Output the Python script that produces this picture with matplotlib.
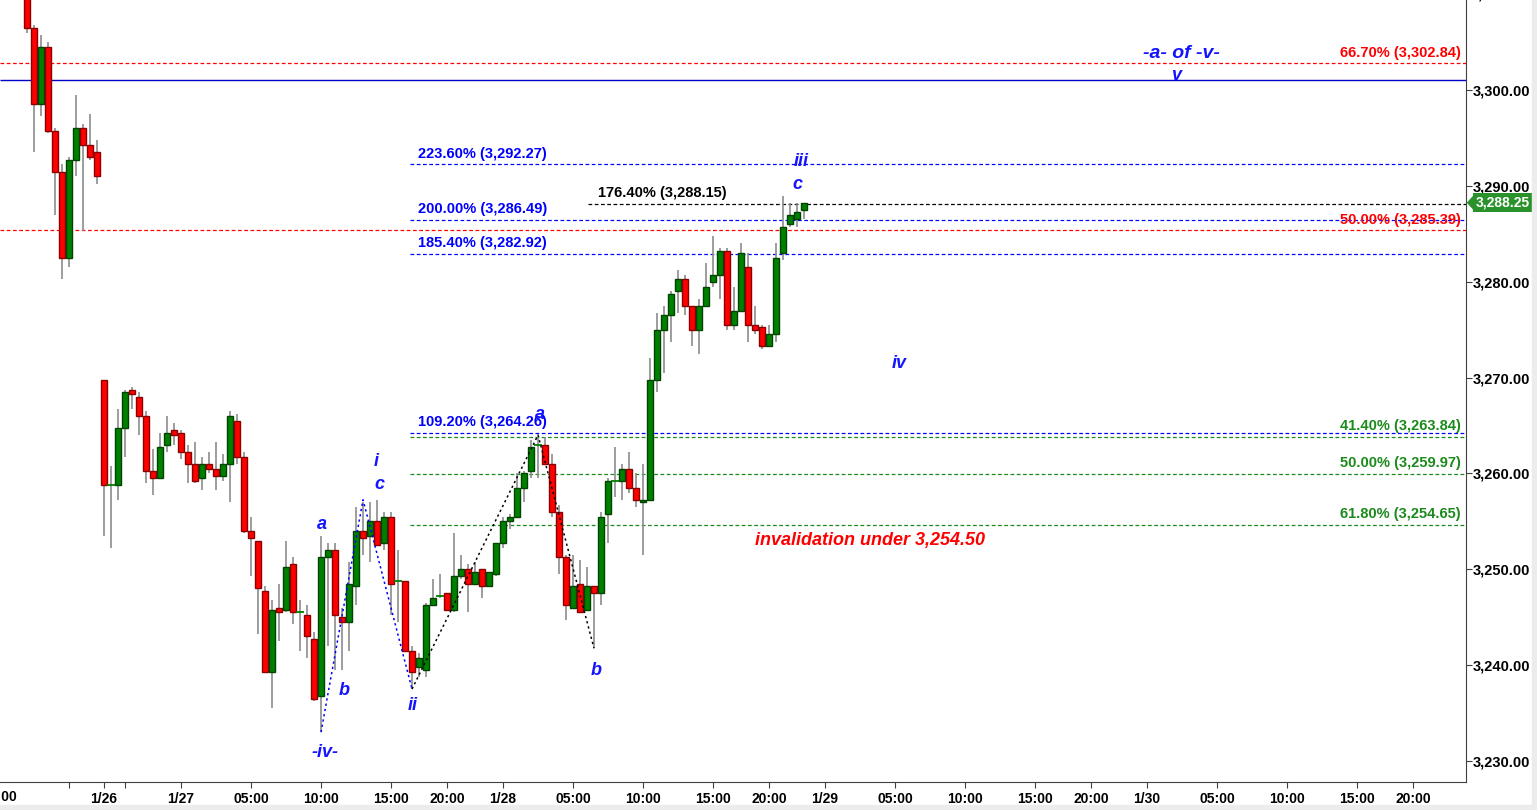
import pandas as pd
import matplotlib
matplotlib.use('Agg')
import matplotlib.pyplot as plt
import matplotlib.transforms as mtrans

# 30 minute bars, timestamp = bar close (US/Eastern), first bar Fri 1/24 12:00
first_bar = '2020-01-24 12:00'
opens = [3312.00, 3306.50, 3298.50, 3304.50, 3295.75, 3291.50, 3282.50, 3292.75, 3296.00, 3294.25, 3293.50,
         3269.75, 3258.75, 3258.75, 3264.75, 3268.75, 3268.00, 3266.00, 3260.25, 3259.50, 3263.00,
         3264.50, 3264.25, 3262.25, 3261.00, 3259.50, 3261.00, 3260.50, 3259.75, 3261.00, 3265.50,
         3261.75, 3254.00, 3253.00, 3247.75, 3239.25, 3246.00, 3245.75, 3250.50, 3245.50, 3245.25,
         3242.75, 3236.75, 3251.25, 3252.00, 3245.00, 3244.50, 3248.25, 3254.00, 3253.50, 3255.00,
         3252.75, 3255.50, 3248.75, 3248.75, 3241.50, 3239.75, 3239.50, 3246.25, 3247.25, 3247.50,
         3245.75, 3249.25, 3250.00, 3248.50, 3250.00, 3248.25, 3249.50, 3252.75, 3255.00, 3255.50,
         3258.50, 3260.25, 3263.00, 3263.00, 3261.00, 3256.00, 3251.25, 3246.00, 3248.50, 3245.75,
         3248.25, 3247.50, 3255.75, 3259.25, 3259.25, 3260.50, 3258.50, 3257.00, 3257.25, 3269.75,
         3275.00, 3276.50, 3279.00, 3280.25, 3277.50, 3275.00, 3277.50, 3280.00, 3280.75, 3283.25,
         3275.50, 3277.00, 3281.50, 3275.50, 3275.25, 3273.25, 3274.50, 3283.00, 3286.00, 3286.50,
         3287.50]
highs = [3313.00, 3306.75, 3305.75, 3305.00, 3296.00, 3292.25, 3293.00, 3299.50, 3296.50, 3297.50, 3294.75,
         3269.75, 3260.75, 3266.75, 3268.75, 3269.00, 3268.50, 3266.50, 3262.50, 3264.25, 3266.00,
         3265.25, 3264.50, 3263.00, 3263.25, 3261.75, 3262.25, 3263.25, 3262.00, 3266.50, 3266.25,
         3262.25, 3255.50, 3253.00, 3248.25, 3246.75, 3248.50, 3253.00, 3251.25, 3246.75, 3246.25,
         3243.50, 3253.50, 3252.75, 3252.75, 3246.00, 3250.75, 3256.50, 3257.00, 3257.00, 3257.25,
         3256.00, 3256.00, 3252.00, 3248.75, 3242.00, 3241.25, 3246.50, 3249.00, 3249.50, 3247.50,
         3253.75, 3251.50, 3250.50, 3250.75, 3250.00, 3249.75, 3252.75, 3255.50, 3255.75, 3260.00,
         3260.25, 3263.50, 3263.75, 3263.75, 3262.00, 3256.75, 3251.50, 3251.50, 3251.00, 3250.25,
         3248.25, 3256.00, 3259.50, 3262.75, 3261.00, 3262.25, 3260.00, 3261.00, 3272.00, 3276.75,
         3277.50, 3279.00, 3281.25, 3280.75, 3277.50, 3278.25, 3282.00, 3284.75, 3283.50, 3283.50,
         3279.50, 3284.00, 3283.00, 3277.50, 3275.50, 3275.50, 3284.00, 3289.00, 3288.25, 3288.25,
         3288.25]
lows = [3306.00, 3293.50, 3297.25, 3295.50, 3287.00, 3280.25, 3281.50, 3291.00, 3285.25, 3292.75, 3290.25,
        3253.50, 3252.25, 3257.25, 3261.75, 3266.75, 3264.00, 3259.00, 3257.75, 3259.50, 3262.25,
        3263.00, 3261.50, 3259.00, 3259.00, 3258.25, 3260.00, 3258.25, 3259.25, 3257.00, 3261.00,
        3253.75, 3249.25, 3243.25, 3239.25, 3235.50, 3242.50, 3245.50, 3244.25, 3241.50, 3240.75,
        3236.25, 3233.00, 3242.00, 3239.50, 3239.50, 3241.50, 3246.25, 3251.50, 3250.75, 3252.50,
        3252.00, 3245.25, 3244.50, 3241.50, 3237.50, 3238.75, 3238.75, 3246.25, 3247.00, 3245.75,
        3245.50, 3249.00, 3245.50, 3248.50, 3247.00, 3248.25, 3249.25, 3252.25, 3254.25, 3255.50,
        3257.00, 3259.50, 3259.50, 3261.00, 3255.50, 3249.50, 3244.75, 3246.00, 3245.50, 3245.75,
        3241.75, 3246.25, 3252.75, 3257.50, 3257.25, 3258.00, 3256.50, 3251.50, 3257.25, 3268.50,
        3270.50, 3273.75, 3276.75, 3276.50, 3273.25, 3272.50, 3277.50, 3279.50, 3278.25, 3275.00,
        3275.00, 3277.00, 3273.75, 3274.50, 3273.00, 3273.25, 3273.75, 3282.25, 3285.75, 3285.75,
        3286.50]
closes = [3306.50, 3298.50, 3304.50, 3295.75, 3291.50, 3282.50, 3292.75, 3296.00, 3294.25, 3293.00, 3291.00,
          3258.75, 3258.75, 3264.75, 3268.50, 3268.25, 3266.00, 3260.25, 3259.50, 3262.75, 3264.25,
          3264.00, 3262.25, 3261.00, 3259.25, 3261.00, 3260.50, 3259.75, 3261.00, 3266.00, 3261.75,
          3254.00, 3253.25, 3248.00, 3239.25, 3245.75, 3245.50, 3250.25, 3245.50, 3245.50, 3243.00,
          3236.50, 3251.25, 3252.00, 3245.25, 3244.50, 3248.50, 3254.00, 3253.25, 3255.00, 3252.50,
          3255.50, 3248.50, 3248.75, 3241.50, 3239.25, 3240.75, 3246.25, 3247.00, 3247.25, 3245.75,
          3249.25, 3250.00, 3248.50, 3249.75, 3248.25, 3249.75, 3252.75, 3255.00, 3255.50, 3258.50,
          3260.00, 3262.75, 3263.00, 3261.00, 3256.00, 3251.25, 3246.25, 3248.25, 3245.50, 3248.25,
          3247.50, 3255.50, 3259.25, 3259.25, 3260.50, 3258.50, 3257.25, 3257.25, 3269.75, 3275.00,
          3276.50, 3278.75, 3280.25, 3277.50, 3275.00, 3277.50, 3279.50, 3280.75, 3283.25, 3275.50,
          3277.00, 3283.00, 3275.50, 3275.00, 3273.25, 3274.50, 3282.50, 3285.75, 3287.00, 3287.25,
          3288.25]
last_price = 3288.25

tick_times = ['2020-01-24 15:00', '2020-01-26 18:30', '2020-01-26 20:00', '2020-01-27 00:00',
              '2020-01-27 05:00', '2020-01-27 10:00', '2020-01-27 15:00', '2020-01-27 20:00',
              '2020-01-28 00:00', '2020-01-28 05:00', '2020-01-28 10:00', '2020-01-28 15:00',
              '2020-01-28 20:00', '2020-01-29 00:00', '2020-01-29 05:00', '2020-01-29 10:00',
              '2020-01-29 15:00', '2020-01-29 20:00', '2020-01-30 00:00', '2020-01-30 05:00',
              '2020-01-30 10:00', '2020-01-30 15:00', '2020-01-30 20:00']
tick_labels = ['', '1/26', '', '1/27', '05:00', '10:00', '15:00', '20:00', '1/28', '05:00', '10:00',
               '15:00', '20:00', '1/29', '05:00', '10:00', '15:00', '20:00', '1/30', '05:00', '10:00',
               '15:00', '20:00']

fib_blue = [3292.27, 3286.49, 3282.92, 3264.26]
fib_blue_txt = ['223.60% (3,292.27)', '200.00% (3,286.49)', '185.40% (3,282.92)', '109.20% (3,264.26)']
fib_red = [3302.84, 3285.39]
fib_red_txt = ['66.70% (3,302.84)', '50.00% (3,285.39)']
fib_green = [3263.84, 3259.97, 3254.65]
fib_green_txt = ['41.40% (3,263.84)', '50.00% (3,259.97)', '61.80% (3,254.65)']
ext_black = 3288.15
ext_black_txt = '176.40% (3,288.15)'
wave_line = 3301.10

# wave paths (bar time, price)
blue_path_t = ['2020-01-27 10:00', '2020-01-27 13:00', '2020-01-27 16:30']
blue_path_p = [3233.00, 3257.25, 3237.50]
black_path_t = ['2020-01-27 16:30', '2020-01-28 02:30', '2020-01-28 06:30']
black_path_p = [3237.50, 3264.00, 3241.75]


def session_times(start, end):
    t = pd.date_range(start, end, freq='30min')
    hm = t.hour * 60 + t.minute
    brk = (hm > 17 * 60) & (hm < 18 * 60 + 30)
    wd = t.weekday
    weekend = (wd == 5) | ((wd == 4) & (hm > 17 * 60)) | ((wd == 6) & (hm < 18 * 60 + 30))
    return t[~brk & ~weekend]


axis_t = session_times('2020-01-24 09:00', '2020-01-31 00:00')
pos = {t: i for i, t in enumerate(axis_t)}
bar_t = axis_t[axis_t.get_loc(pd.Timestamp(first_bar)):][:len(opens)]
xs = [pos[t] for t in bar_t]


def X(s):
    return pos[pd.Timestamp(s)]


plt.rcParams['font.family'] = 'Liberation Sans'

fig = plt.figure(figsize=(15.37, 8.10), dpi=100)
ax = fig.add_axes([0, 28 / 810, 1466 / 1537, 782 / 810])

x_fri_close = X('2020-01-24 17:00')
x_sun_open = X('2020-01-26 18:30')
ax.set_xlim(x_fri_close - 13.86, x_sun_open + 194.57)
ax.set_ylim(3227.8, 3309.4)

# candles
for x, o, h, l, c in zip(xs, opens, highs, lows, closes):
    ax.vlines(x, l, h, color='#8c8c8c', lw=1.2, zorder=2)
    if o == c:
        ax.hlines(c, x - 0.55, x + 0.55, color='#008000', lw=1.3, zorder=3)
        continue
    up = c > o
    ax.bar(x, abs(c - o), bottom=min(o, c), width=0.82,
           color='#008000' if up else '#ff0000',
           edgecolor='#004400' if up else '#8b0000', lw=1.0, zorder=3)

# level lines
x0, x1 = ax.get_xlim()
xstart = X('2020-01-27 16:30') - 0.3
for p in fib_red:
    ax.hlines(p, x0, x1, color='#ff0000', lw=0.9, linestyles=(0, (3, 2)), zorder=1)
ax.hlines(wave_line, x0, x1, color='#0000c8', lw=1.0, zorder=1)
for p in fib_blue:
    ax.hlines(p, xstart, x1, color='#0000ff', lw=0.9, linestyles=(0, (3, 2)), zorder=1)
for p in fib_green:
    ax.hlines(p, xstart, x1, color='#1a8a1a', lw=0.9, linestyles=(0, (3, 2)), zorder=1)
ax.hlines(ext_black, X('2020-01-28 06:00') + 0.1, x1, color='black', lw=0.9,
          linestyles=(0, (3, 2)), zorder=1)

lbl = dict(fontsize=10.5, fontweight='bold', va='bottom')
for p, s in zip(fib_blue, fib_blue_txt):
    ax.text(xstart + 1.1, p + 0.35, s, color='#0000ff', ha='left', **lbl)
ax.text(X('2020-01-28 06:30') + 0.6, ext_black + 0.35, ext_black_txt, color='black', ha='left', **lbl)
xr = x1 - 0.75
for p, s in zip(fib_red, fib_red_txt):
    ax.text(xr, p + 0.35, s, color='#ff0000', ha='right', **lbl)
for p, s in zip(fib_green, fib_green_txt):
    ax.text(xr, p + 0.35, s, color='#1a8a1a', ha='right', **lbl)

# wave paths
ax.plot([X(t) for t in blue_path_t], blue_path_p, color='#0000ff', lw=1.1, ls=(0, (1.5, 2)), zorder=4)
ax.plot([X(t) for t in black_path_t], black_path_p, color='black', lw=1.1, ls=(0, (1.5, 2)), zorder=4)

# wave labels
wv = dict(color='#1414ff', fontsize=13, fontweight='bold', fontstyle='italic', ha='center', va='center', zorder=5)
k0 = x_sun_open
ax.text(k0 + 153.9, 3303.8, '-a- of -v-', **{**wv, 'fontsize': 14})
ax.text(k0 + 153.1, 3301.5, 'v', **wv)
ax.text(k0 + 99.6, 3292.5, 'iii', **wv)
ax.text(k0 + 99.1, 3290.1, 'c', **wv)
ax.text(k0 + 113.6, 3271.5, 'iv', **wv)
ax.text(k0 + 62.3, 3266.1, 'a', **wv)
ax.text(k0 + 38.9, 3261.2, 'i', **wv)
ax.text(k0 + 39.3, 3258.8, 'c', **wv)
ax.text(k0 + 31.1, 3254.7, 'a', **wv)
ax.text(k0 + 34.3, 3237.3, 'b', **wv)
ax.text(k0 + 31.6, 3230.9, '-iv-', **wv)
ax.text(k0 + 44.1, 3235.8, 'ii', **wv)
ax.text(k0 + 70.3, 3239.4, 'b', **wv)
ax.text(k0 + 109.4, 3253.0, 'invalidation under 3,254.50', color='#ff0000', fontsize=13,
        fontweight='bold', fontstyle='italic', ha='center', va='center')

# axes styling
for s in ['top', 'left']:
    ax.spines[s].set_visible(False)
ax.spines['right'].set_color('#404040')
ax.spines['bottom'].set_color('#404040')
ax.yaxis.tick_right()
ax.set_yticks(range(3230, 3301, 10))
ax.set_yticklabels([f'{v:,.2f}' for v in range(3230, 3301, 10)], fontweight='bold', fontsize=10.5)
ax.tick_params(axis='y', direction='out', length=4, pad=1, color='#404040')
ax.set_xticks([X(t) for t in tick_times])
ax.set_xticklabels(tick_labels, fontweight='bold', fontsize=10)
ax.tick_params(axis='x', direction='out', length=4, pad=3, color='#404040')

blend_y = mtrans.blended_transform_factory(ax.transAxes, ax.transData)
ax.text(1.0035, 3310, '3,310.00', transform=blend_y, fontsize=10.5, fontweight='bold',
        va='center', ha='left', clip_on=False)
ax.text(X('2020-01-24 10:00'), -0.019, '10:00',
        transform=mtrans.blended_transform_factory(ax.transData, ax.transAxes),
        fontsize=10, fontweight='bold', ha='center', va='center', clip_on=False)

# last price tag
ax.text(1.0068, last_price, f'{last_price:,.2f}', transform=blend_y, color='white', fontsize=10,
        fontweight='bold', va='center', ha='left', clip_on=False, zorder=6,
        bbox=dict(boxstyle='square,pad=0.18', fc='#2a922a', ec='none'))
ax.add_patch(plt.Polygon([(1.0005, last_price), (1.0062, last_price + 0.95), (1.0062, last_price - 0.95)],
                         closed=True, transform=blend_y, fc='#2a922a', ec='none', clip_on=False, zorder=6))

# grey strips at the window edges
fig.patches.append(plt.Rectangle((0, 0), 1, 5 / 810, transform=fig.transFigure, color='#ececec'))
fig.patches.append(plt.Rectangle((1532 / 1537, 0), 5 / 1537, 1, transform=fig.transFigure, color='#ececec'))

fig.savefig('out.png', dpi=100, facecolor='white')
